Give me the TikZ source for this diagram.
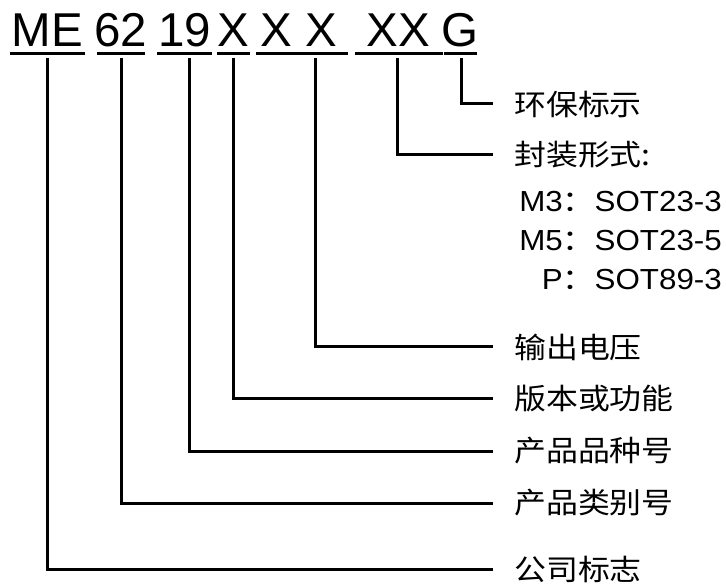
\documentclass[tikz,border=0pt]{standalone}
\usepackage{fontspec}
\setmainfont{Liberation Sans}
\newfontfamily\lat[FakeStretch=1.08]{Liberation Sans}
\newfontfamily\cjk[FakeStretch=1.1]{Noto Sans CJK SC}
\begin{document}
\begin{tikzpicture}[x=1pt,y=-1pt,
  code/.style={inner sep=0pt,anchor=base,font=\fontsize{47.5}{50}\selectfont},
  lbl/.style={inner sep=0pt,anchor=west,font=\fontsize{29}{32}\selectfont\cjk},
  pkg/.style={inner sep=0pt,anchor=east,font=\fontsize{29}{32}\selectfont\lat},
  wire/.style={line width=3pt,line join=miter},
  uline/.style={line width=2.6pt}]
\useasboundingbox (0,0) rectangle (726,585);
% code text
\node[code] (me)  at (47.5,47) {ME};
\node[code] (n62) at (121,47) {62};
\node[code] (n19) at (185,47) {19};
\node[code] (x1)  at (233.5,47) {X};
\node[code] (x23) at (299,47) {X X};
\node[code] (x45) at (398,47) {XX};
\node[code] (g)   at (460,47) {G};
% underlines
\draw[uline] (10,53.5) -- (85,53.5);
\draw[uline] (97,53.5) -- (145,53.5);
\draw[uline] (157,53.5) -- (212,53.5);
\draw[uline] (217,53.5) -- (250,53.5);
\draw[uline] (256,53.5) -- (348,53.5);
\draw[uline] (355,53.5) -- (443,53.5);
\draw[uline] (444,53.5) -- (477,53.5);
% wire tops
\coordinate (tme)  at (47,58.5);
\coordinate (t62)  at (121,58.5);
\coordinate (t19)  at (189,58.5);
\coordinate (tx1)  at (233,58.5);
\coordinate (tx23) at (315,58.5);
\coordinate (tx45) at (397,58.5);
\coordinate (tg)   at (461,58.5);
% labels
\node[lbl] (lg)   at (514,104) {环保标示};
\node[lbl] (lpkg) at (514,155) {封装形式:};
\node[pkg] (m3)   at (722,202) {M3{\cjk ：}SOT23-3};
\node[pkg] (m5)   at (722,241) {M5{\cjk ：}SOT23-5};
\node[pkg] (p)    at (722,280) {P{\cjk ：}SOT89-3};
\node[lbl] (lv)   at (514,347) {输出电压};
\node[lbl] (lf)   at (514,399) {版本或功能};
\node[lbl] (lpz)  at (514,451) {产品品种号};
\node[lbl] (llb)  at (514,503) {产品类别号};
\node[lbl] (lco)  at (514,569) {公司标志};
% connectors
\draw[wire] (tg)   |- ([xshift=-21pt]lg.west);
\draw[wire] (tx45) |- ([xshift=-21pt]lpkg.west);
\draw[wire] (tx23) |- ([xshift=-21pt]lv.west);
\draw[wire] (tx1)  |- ([xshift=-21pt]lf.west);
\draw[wire] (t19)  |- ([xshift=-21pt]lpz.west);
\draw[wire] (t62)  |- ([xshift=-21pt]llb.west);
\draw[wire] (tme)  |- ([xshift=-21pt]lco.west);
\end{tikzpicture}
\end{document}
